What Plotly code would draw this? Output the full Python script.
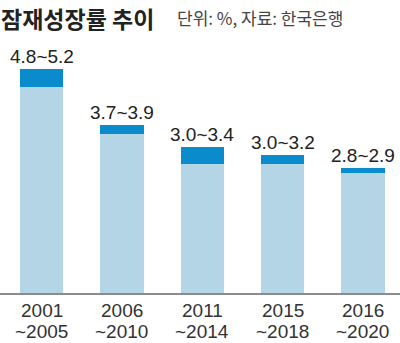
import plotly.graph_objects as go

# Potential growth rate ranges by period (%), source: Bank of Korea
period_start = ["2001", "2006", "2011", "2015", "2016"]
period_end = ["~2005", "~2010", "~2014", "~2018", "~2020"]
low = [4.8, 3.7, 3.0, 3.0, 2.8]
high = [5.2, 3.9, 3.4, 3.2, 2.9]

LIGHT = "#b4d5e6"
DARK = "#0a8bcc"
TEXT = "#222222"
NUM_FONT = "Liberation Sans, Arial, sans-serif"
KR_FONT = "Noto Sans CJK KR, Noto Sans, sans-serif"

W, H = 400, 343
MT, MB = 35, 50
plot_h = H - MT - MB

xs = list(range(len(period_start)))
span = [h - l for h, l in zip(high, low)]

fig = go.Figure()
fig.add_trace(go.Bar(x=xs, y=low, marker=dict(color=LIGHT, line=dict(width=0)),
                     width=0.54, hoverinfo="skip"))
fig.add_trace(go.Bar(x=xs, y=span, marker=dict(color=DARK, line=dict(width=0)),
                     width=0.54, hoverinfo="skip"))


def py(pix):
    # convert a pixel row to paper coordinates
    return 1 + (MT - pix) / plot_h


annotations = []
for x, l, h in zip(xs, low, high):
    annotations.append(dict(
        x=x, y=h, xref="x", yref="y", text=f"{l:.1f}~{h:.1f}",
        showarrow=False, yanchor="bottom", yshift=0,
        font=dict(family=NUM_FONT, size=19, color=TEXT),
    ))

# two-line period labels under the axis
for x, s, e in zip(xs, period_start, period_end):
    annotations.append(dict(
        x=x, y=py(310), xref="x", yref="paper", text=s, showarrow=False,
        yanchor="middle", borderpad=0,
        font=dict(family=NUM_FONT, size=19, color="#333333"),
    ))
    annotations.append(dict(
        x=x, y=py(331), xref="x", yref="paper", text=e, showarrow=False,
        yanchor="middle", borderpad=0,
        font=dict(family=NUM_FONT, size=19, color="#333333"),
    ))

annotations.append(dict(
    x=0, y=py(0), xref="paper", yref="paper", xanchor="left", yanchor="top",
    text="<b>잠재성장률 추이</b>", showarrow=False, borderpad=0,
    font=dict(family=KR_FONT, size=23, color=TEXT),
))
annotations.append(dict(
    x=175 / W, y=py(17), xref="paper", yref="paper", xanchor="left", yanchor="middle",
    text="단위: %, 자료: 한국은행", showarrow=False,
    font=dict(family=KR_FONT, size=17, color="#444444"),
))

fig.update_layout(
    width=W, height=H,
    margin=dict(l=0, r=0, t=MT, b=MB, pad=0),
    barmode="stack",
    showlegend=False,
    plot_bgcolor="white", paper_bgcolor="white",
    annotations=annotations,
    xaxis=dict(
        range=[-0.519, 4.462], tickmode="array", tickvals=xs,
        showticklabels=False, showgrid=False, zeroline=False,
        showline=True, linecolor="#8c8c8c", linewidth=2, ticks="",
        fixedrange=True,
    ),
    yaxis=dict(range=[0, plot_h / 43.0], visible=False, fixedrange=True),
)

fig.write_html("out.html", config={"displayModeBar": False})
